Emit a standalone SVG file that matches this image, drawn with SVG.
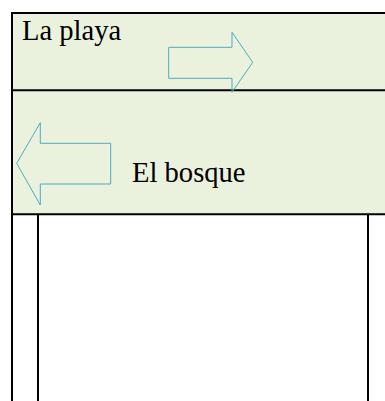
<svg xmlns="http://www.w3.org/2000/svg" width="385" height="401" viewBox="0 0 385 401">
  <style>
    .cell { fill: #EAF1DD; stroke: none; }
    .rule { stroke: #000; stroke-width: 2; fill: none; }
    .arrow { fill: none; stroke: #4BACC6; stroke-width: 1; stroke-linejoin: miter; }
    .lbl { font-family: 'Liberation Serif', 'DejaVu Serif', serif; font-size: 28.6px; fill: #000; }
  </style>
  <rect width="385" height="401" fill="#fff"/>
  <g id="row-playa">
    <rect class="cell" x="12" y="13" width="373" height="77.3"/>
    <text class="lbl" x="22" y="40">La playa</text>
  </g>
  <g id="row-bosque">
    <rect class="cell" x="12" y="90.3" width="373" height="124"/>
    <text class="lbl" x="132" y="182">El bosque</text>
  </g>
  <g id="row-empty">
    <line class="rule" x1="38" y1="214.3" x2="38" y2="401"/>
    <line class="rule" x1="368" y1="214.3" x2="368" y2="401"/>
  </g>
  <g id="grid">
    <line class="rule" x1="12" y1="13" x2="385" y2="13"/>
    <line class="rule" x1="12" y1="90.3" x2="385" y2="90.3"/>
    <line class="rule" x1="12" y1="214.3" x2="385" y2="214.3"/>
    <line class="rule" x1="12" y1="12" x2="12" y2="401"/>
  </g>
  <g id="connectors">
    <polygon class="arrow" points="168.7,47.3 232,47.3 232,32.3 252.7,62.3 232,92.3 232,78.3 168.7,78.3"/>
    <polygon class="arrow" points="110.7,143.3 40.3,143.3 40.3,122.7 16.7,163.3 40.3,205 40.3,184 110.7,184"/>
  </g>
</svg>
